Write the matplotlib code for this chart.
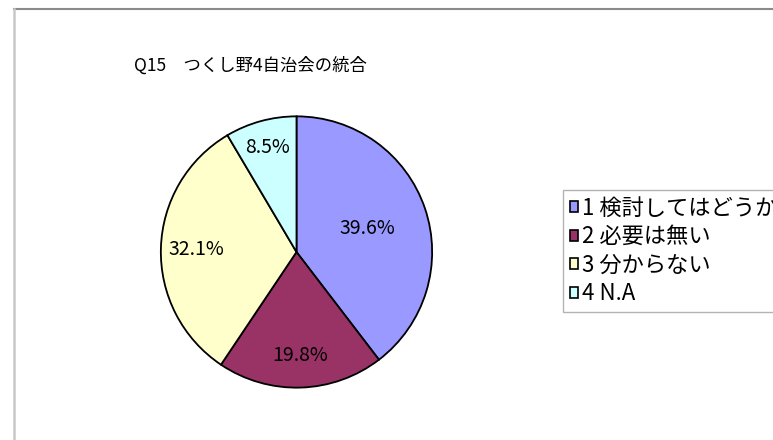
import numpy as np
import matplotlib.pyplot as plt
from matplotlib.patches import Rectangle
from matplotlib.lines import Line2D

plt.rcParams['font.family'] = ['Noto Sans CJK JP', 'DejaVu Sans']

# data
title = "Q15\u3000つくし野4自治会の統合"
labels = ["1 検討してはどうか", "2 必要は無い", "3 分からない", "4 N.A"]
values = [39.6, 19.8, 32.1, 8.5]
colors = ["#9999FF", "#993366", "#FFFFCC", "#CCFFFF"]
label_r = [0.55, 0.76, 0.74, 0.80]   # radial position of the % labels

W, H = 773, 440
fig = plt.figure(figsize=(W / 100, H / 100), dpi=100)

# chart frame (runs off the right / bottom edge like the screenshot)
fig.lines.append(Line2D([13.5 / W, 1.0], [1 - 9.5 / H] * 2, transform=fig.transFigure,
                        color="#8a8a8a", lw=1.5))
fig.lines.append(Line2D([13.5 / W] * 2, [0, 1 - 9.5 / H], transform=fig.transFigure,
                        color="#c8c8c8", lw=1.8))

# pie axes: centre (296.5, 252) px, radius 137 px
cx, cy, r = 296.5, 252, 137
ax = fig.add_axes([(cx - r) / W, (H - cy - r) / H, 2 * r / W, 2 * r / H])
wedges, _ = ax.pie(values, colors=colors, startangle=90, counterclock=False,
                   wedgeprops=dict(edgecolor="black", linewidth=1.3))
ax.set_xlim(-1.01, 1.01)
ax.set_ylim(-1.01, 1.01)
ax.set_aspect("equal")
ax.axis("off")

for w, v, d in zip(wedges, values, label_r):
    ang = np.deg2rad((w.theta1 + w.theta2) / 2)
    ax.text(d * np.cos(ang), d * np.sin(ang), f"{v:.1f}%",
            ha="center", va="center", fontsize=14)

fig.text(250 / W, 1 - 66 / H, title, ha="center", va="center", fontsize=12.5)

# legend
handles = [Rectangle((0, 0), 1, 1, facecolor=c, edgecolor="black", lw=1.2) for c in colors]
leg = fig.legend(handles, labels, loc="upper left",
                 bbox_to_anchor=(563 / W, 1 - 190 / H), fontsize=16,
                 handlelength=0.37, handleheight=0.37, handletextpad=0.2,
                 labelspacing=0.25, borderpad=0.3, borderaxespad=0,
                 fancybox=False, frameon=True)
leg.get_frame().set_edgecolor("#a0a0a0")
leg.get_frame().set_linewidth(1.0)

fig.savefig("out.png", dpi=100)
